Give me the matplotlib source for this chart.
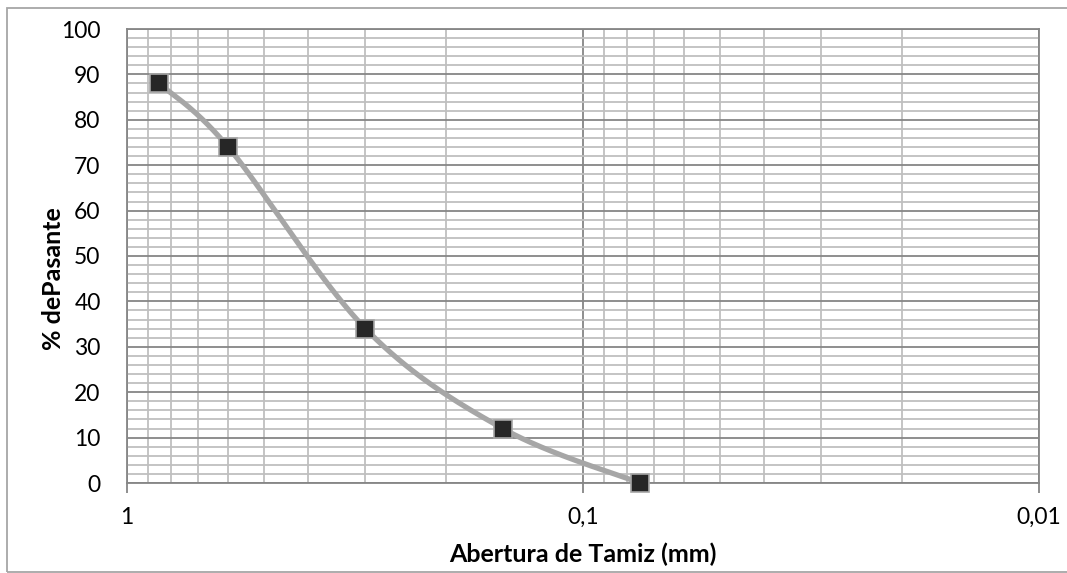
import numpy as np
import matplotlib
matplotlib.use("Agg")
import matplotlib.pyplot as plt
from matplotlib.patches import Rectangle
from matplotlib.ticker import FixedLocator, NullFormatter, LogLocator

plt.rcParams['font.family'] = ['Lato', 'DejaVu Sans']

# Sieve openings (mm) and cumulative percent passing
abertura_mm = [0.85, 0.6, 0.3, 0.15, 0.075]
pasante = [88, 74, 34, 12, 0]

x_ticks = [1, 0.1, 0.01]
x_tick_labels = ["1", "0,1", "0,01"]
y_ticks = list(range(0, 101, 10))


def smooth_curve(xs, ys, n=60):
    """Catmull-Rom style smoothing in (log10 x, y) space."""
    u = np.log10(np.asarray(xs, dtype=float))
    v = np.asarray(ys, dtype=float)
    pts = np.column_stack([u, v])
    pts_ext = np.vstack([pts[0], pts, pts[-1]])
    out = []
    t = np.linspace(0, 1, n)[:, None]
    for i in range(1, len(pts_ext) - 2):
        p0, p1, p2, p3 = pts_ext[i - 1], pts_ext[i], pts_ext[i + 1], pts_ext[i + 2]
        c1 = p1 + (p2 - p0) / 6.0
        c2 = p2 - (p3 - p1) / 6.0
        seg = ((1 - t) ** 3) * p1 + 3 * ((1 - t) ** 2) * t * c1 \
            + 3 * (1 - t) * t ** 2 * c2 + t ** 3 * p2
        out.append(seg if i == 1 else seg[1:])
    curve = np.vstack(out)
    return 10 ** curve[:, 0], curve[:, 1]


W, H = 1067, 573
fig = plt.figure(figsize=(W / 100, H / 100), dpi=100)
ax = fig.add_axes([127 / W, 1 - 483 / H, (1039 - 127) / W, (483 - 29) / H])

# chart-area border (open on the right edge)
fig.patches.append(Rectangle((6.5 / W, 1.5 / H), 1.2, 564 / H,
                             transform=fig.transFigure, fill=False,
                             edgecolor="#a6a6a6", linewidth=1.3, zorder=0))

ax.set_xscale("log")
ax.set_xlim(1, 0.01)
ax.set_ylim(0, 100)

# grid
ax.xaxis.set_major_locator(FixedLocator(x_ticks))
ax.xaxis.set_minor_locator(LogLocator(base=10, subs=np.arange(2, 10)))
ax.xaxis.set_minor_formatter(NullFormatter())
ax.set_xticks(x_ticks)
ax.set_xticklabels(x_tick_labels)
ax.set_yticks(y_ticks)
ax.yaxis.set_minor_locator(FixedLocator(np.arange(0, 101, 2)))

ax.grid(which="minor", color="#bfbfbf", linewidth=1.3)
ax.grid(which="major", color="#868686", linewidth=1.3)
ax.set_axisbelow(True)

for s in ax.spines.values():
    s.set_color("#868686")
    s.set_linewidth(1.3)

ax.tick_params(axis="x", which="major", length=7, width=1.3, color="#868686",
               pad=10, labelsize=16.5, labelcolor="black")
ax.tick_params(axis="x", which="minor", length=0)
ax.tick_params(axis="y", which="both", length=0, pad=19, labelsize=16.5,
               labelcolor="black")

xs, ys = smooth_curve(abertura_mm, pasante)
ax.plot(xs, ys, color="#a6a6a6", linewidth=3.8, solid_capstyle="round", zorder=3)
ax.plot(abertura_mm, pasante, linestyle="none", marker="s", markersize=12.5,
        markerfacecolor="#262626", markeredgecolor="#a6a6a6",
        markeredgewidth=1.2, zorder=4, clip_on=False)

ax.set_xlabel("Abertura de Tamiz (mm)", fontsize=18, fontweight="bold", labelpad=11)
ax.set_ylabel("% dePasante", fontsize=18, fontweight="bold", labelpad=-2.5, y=0.45)

fig.savefig("out.png", dpi=100)
